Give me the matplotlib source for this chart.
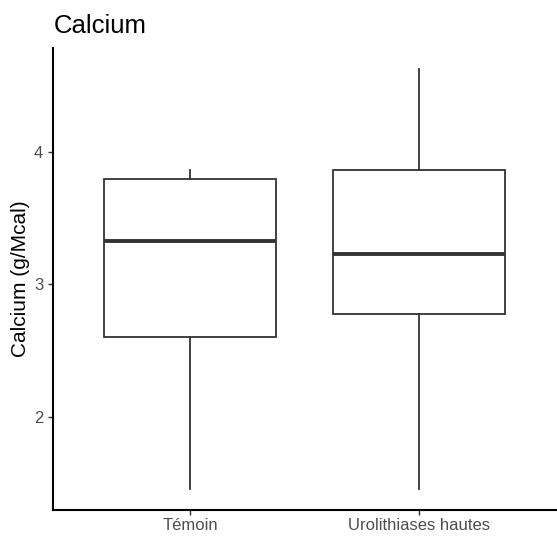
import matplotlib
matplotlib.use("Agg")
import matplotlib.pyplot as plt

categories = ["Témoin", "Urolithiases hautes"]
whisker_low = [1.46, 1.46]
q1 = [2.60, 2.78]
median = [3.33, 3.23]
q3 = [3.79, 3.86]
whisker_high = [3.86, 4.62]
yticks = [2, 3, 4]

plt.rcParams['font.family'] = ['Liberation Sans', 'DejaVu Sans']

fig = plt.figure(figsize=(5.57, 5.50), dpi=100)
ax = fig.add_axes([53/557, (550-510)/550, (556-53)/557, (510-48)/550])

stats = []
for i, c in enumerate(categories):
    stats.append(dict(label=c, whislo=whisker_low[i], q1=q1[i], med=median[i],
                      q3=q3[i], whishi=whisker_high[i], fliers=[]))

lc = "#333333"
ax.bxp(stats, positions=[1, 2], widths=0.75, showcaps=False, patch_artist=True,
       boxprops=dict(facecolor="white", edgecolor=lc, linewidth=1.3),
       whiskerprops=dict(color=lc, linewidth=1.3),
       medianprops=dict(color=lc, linewidth=2.8, solid_capstyle='butt'),
       showfliers=False)

ax.set_xlim(0.4, 2.6)
ax.set_ylim(1.30, 4.78)
ax.set_yticks(yticks)
ax.set_yticklabels([str(t) for t in yticks])
for s in ["top", "right"]:
    ax.spines[s].set_visible(False)
for s in ["left", "bottom"]:
    ax.spines[s].set_linewidth(1.5)
    ax.spines[s].set_color("black")
ax.tick_params(axis="both", colors="#333333", labelcolor="#4D4D4D", labelsize=12,
               length=3.6, width=1.0)
ax.tick_params(axis="y", pad=3.5)
ax.tick_params(axis="x", pad=2.5)
ax.set_ylabel("Calcium (g/Mcal)", fontsize=15, color="black", labelpad=2.5)
fig.text(54/557, 1 - 33/550, "Calcium", fontsize=18.5, color="black", ha="left", va="baseline")

fig.savefig("out.png", dpi=100, facecolor="white")
